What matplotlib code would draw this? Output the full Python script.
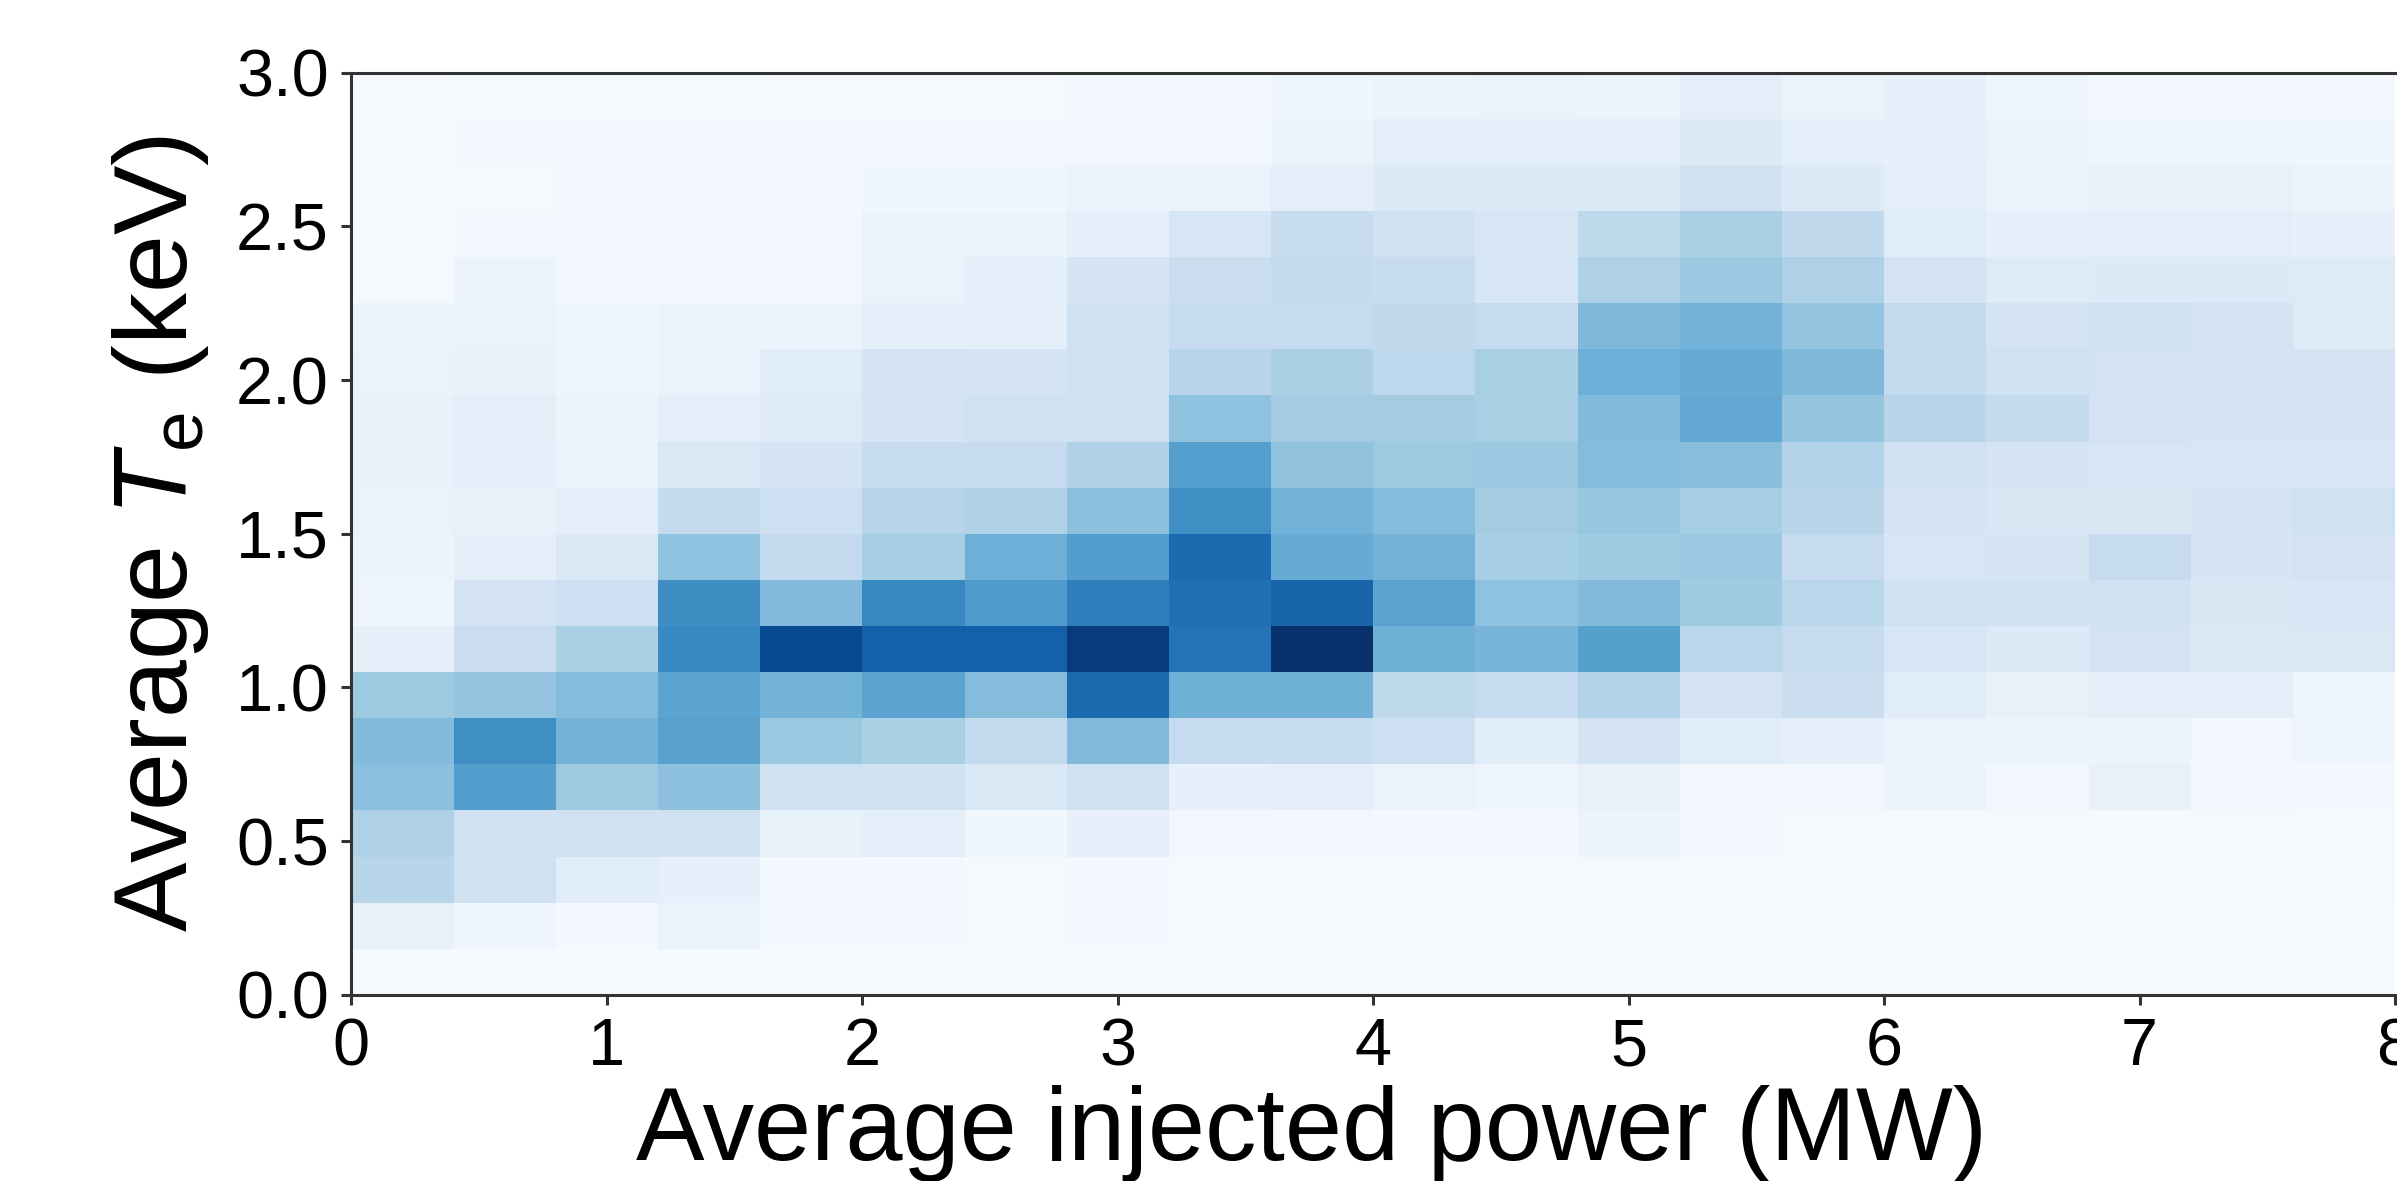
import numpy as np
import matplotlib
matplotlib.use("Agg")
import matplotlib.pyplot as plt

# 2D histogram: average injected power (x) vs average Te (y)
# 20 power bins of 0.4 MW from 0 to 8, 20 Te bins of 0.15 keV from 0 to 3
power_edges = np.linspace(0, 8, 21)
te_edges = np.linspace(0, 3, 21)

# counts per cell, one list per Te bin, from the lowest bin (0-0.15 keV) up
counts = [
    [1, 1, 1, 1, 1, 1, 1, 1, 1, 1, 1, 1, 1, 1, 1, 1, 1, 1, 1, 1],
    [7.5, 4.5, 2, 7, 2.5, 2.5, 1.5, 2, 1.5, 1.5, 1.5, 1.5, 1.5, 1.5, 1.5, 1, 1, 1, 1, 1],
    [29.4, 20.3, 11, 8.5, 2.5, 2.5, 1.5, 2, 1.5, 1.5, 1.5, 1.5, 1.5, 1.5, 1.5, 1.5, 1.5, 1.5, 1.5, 1.5],
    [32.5, 20.3, 20.3, 19.8, 8, 10.5, 4, 8.5, 3, 3, 2, 3, 6, 2, 1.5, 1.5, 1.5, 1.5, 1.5, 1.5],
    [42.4, 57.3, 37.7, 41.7, 19.8, 19.8, 15.1, 20.3, 8.5, 10, 6.5, 5, 7.5, 3, 3, 5.5, 3.5, 7.5, 3, 2.5],
    [44.4, 63.6, 48, 55.8, 38.5, 33.4, 25.6, 44.8, 25, 24.5, 21.3, 11.5, 18.7, 11.5, 9.5, 7, 5.5, 5.5, 3, 4.5],
    [37.7, 40.2, 43.9, 54.9, 47.8, 54.9, 43.5, 78, 49, 49, 27.5, 25.3, 30.9, 18.7, 22.9, 11.5, 7.5, 10, 10, 5],
    [8.5, 23.4, 33.8, 66.3, 90, 81, 81, 95.5, 73.9, 100, 49, 46.6, 56.4, 28.8, 25, 16.7, 14, 18.7, 14.6, 14.6],
    [5, 18.7, 21.3, 64, 44.6, 65.9, 58.5, 70, 75.5, 80, 55.2, 41.2, 44.4, 36.6, 28.8, 19.8, 19.8, 19.8, 15.6, 16.7],
    [5.5, 9, 14.6, 41.2, 25.6, 35, 49.3, 57.3, 77.5, 51.5, 47.8, 35, 36.9, 38, 25, 16.1, 17.2, 25, 17.2, 18.7],
    [6.5, 7.5, 10.5, 25.6, 21.3, 29.7, 31.9, 41.9, 63.3, 48.3, 43.9, 36, 39.2, 35, 29.4, 17.7, 15.6, 15.6, 17.7, 20.3],
    [7.5, 10.5, 7, 14.6, 17.7, 25, 25, 31.9, 56.7, 40.7, 37.7, 38.2, 43.9, 42.6, 30.9, 19.8, 17.7, 16.7, 16.7, 16.7],
    [7.5, 10.5, 5.5, 10.5, 12.5, 17.7, 20.3, 19.8, 41.2, 35.6, 36, 34.1, 44.8, 52.4, 39.5, 29.4, 25.6, 18.7, 17.7, 17.7],
    [6.5, 7.5, 5, 6.5, 11.5, 17.7, 17.7, 20.3, 29.7, 33.4, 27.8, 34.1, 49.3, 51.5, 45.1, 25.6, 19.8, 18.7, 17.7, 17.7],
    [5.5, 6.5, 5, 6.5, 6.5, 9, 10.5, 20.3, 25, 25, 26.6, 25, 45.1, 48.3, 40, 26.3, 17.7, 20.3, 18.7, 12.5],
    [1.5, 6.5, 3.5, 3.5, 3, 7, 9.5, 17.2, 22.9, 25.6, 24, 16.7, 32.8, 38.2, 32.8, 18.7, 12.5, 14, 14, 12.5],
    [1, 2.5, 3, 3, 3.5, 5.5, 5.5, 9.5, 16.7, 24, 19.8, 16.7, 27.5, 34.1, 26.6, 11.5, 8.5, 10, 10.5, 8.5],
    [1, 1.5, 2, 2, 2, 4, 4, 6.5, 6.5, 10.5, 14, 14, 14, 19.8, 14, 10.5, 6.5, 7.5, 7.5, 5.5],
    [1, 2, 2, 2, 3, 2.5, 3, 3, 3.5, 5.5, 10, 10, 10, 13.5, 9, 8.5, 6.5, 4.5, 4.5, 4],
    [0.5, 1, 1, 1, 1.5, 1.5, 1.5, 2, 2, 4, 5.5, 6.5, 6, 10, 6.5, 8.5, 4.5, 3.5, 3.5, 3.5],
]

x_ticks = [0, 1, 2, 3, 4, 5, 6, 7, 8]
y_ticks = [0.0, 0.5, 1.0, 1.5, 2.0, 2.5, 3.0]

plt.rcParams["font.family"] = ["Liberation Sans", "DejaVu Sans"]
plt.rcParams["mathtext.fontset"] = "custom"
plt.rcParams["mathtext.rm"] = "Liberation Sans"
plt.rcParams["mathtext.it"] = "Liberation Sans:italic"

fig = plt.figure(figsize=(23.97, 11.81), dpi=100)
ax = fig.add_axes([0.1466, 0.1575, 0.8526, 0.7811])

ax.pcolormesh(power_edges, te_edges, np.array(counts), cmap="Blues",
              vmin=0, vmax=100, shading="flat")

ax.set_xlim(0, 8)
ax.set_ylim(0, 3)
ax.set_xticks(x_ticks)
ax.set_yticks(y_ticks)
ax.set_xticklabels([str(t) for t in x_ticks])
ax.set_yticklabels([f"{t:.1f}" for t in y_ticks])

for side in ["left", "bottom", "top"]:
    ax.spines[side].set_linewidth(2.2)
    ax.spines[side].set_color("#333333")
ax.spines["right"].set_visible(False)
ax.tick_params(direction="out", length=7.2, width=2.2, color="#333333",
               labelsize=48, pad=9, labelcolor="black")

ax.set_xlabel("Average injected power (MW)", fontsize=74, labelpad=4)
ax.xaxis.label.set_x(0.47)
ax.set_ylabel(r"Average $T_\mathrm{e}$ (keV)", fontsize=75, labelpad=18)

fig.savefig("out.png", dpi=100)
